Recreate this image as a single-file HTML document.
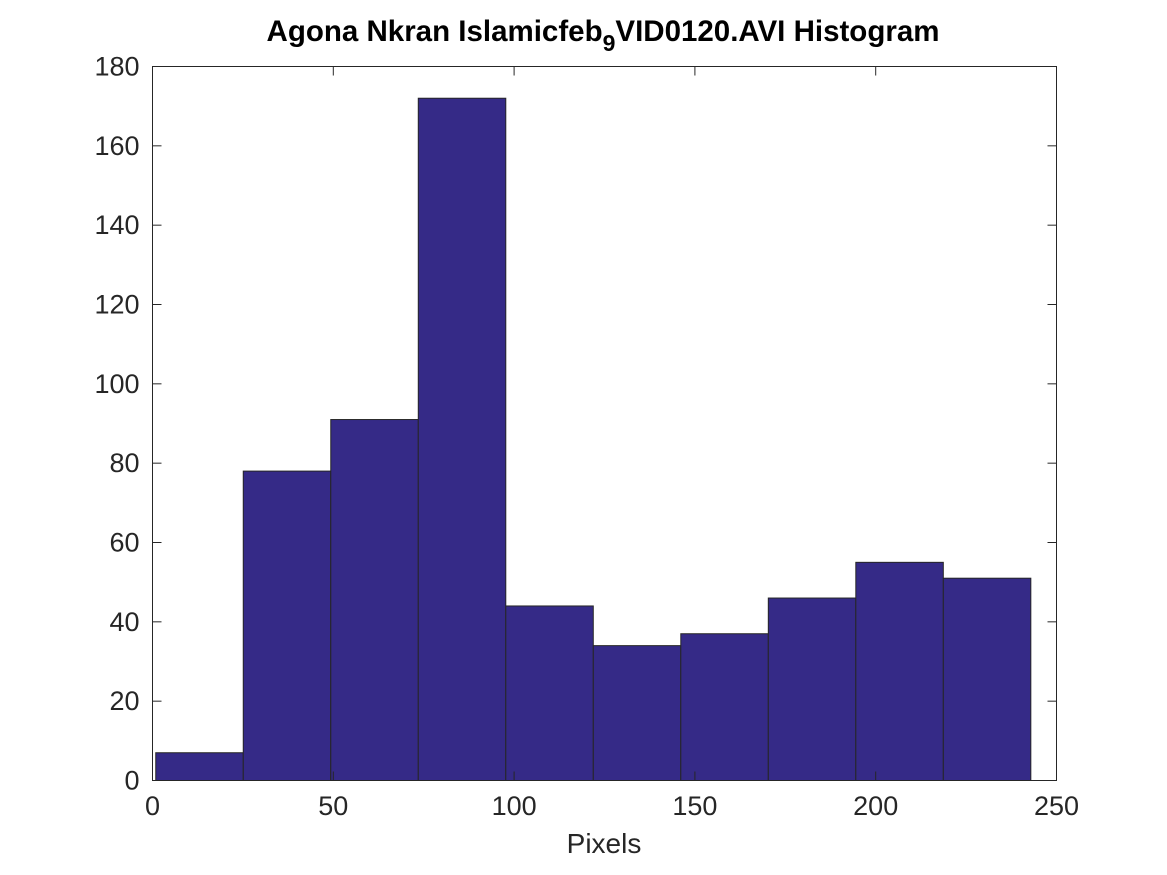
<!DOCTYPE html>
<html><head><meta charset="utf-8"><style>
body{margin:0;background:#fff;}
svg{display:block;font-family:"Liberation Sans",Arial,sans-serif;}
</style></head><body>
<svg id="chart" width="1167" height="875">
<rect width="1167" height="875" fill="#fff"/>
<text x="603" y="41" text-anchor="middle" font-size="29.5" font-weight="bold" fill="#000">Agona Nkran Islamicfeb<tspan dy="10" font-size="23">9</tspan><tspan dy="-10">VID0120.AVI Histogram</tspan></text>
<g id="bars"></g>
<rect x="152.5" y="66.5" width="904" height="714" fill="none" stroke="#262626" stroke-width="1"/>
<g id="ticks"></g>
<text x="604" y="853" text-anchor="middle" font-size="28" fill="#262626">Pixels</text>
</svg>
<script>
const binStart = 0.9;
const binWidth = 24.2;
const counts = [7, 78, 91, 172, 44, 34, 37, 46, 55, 51];
const xTicks = [0, 50, 100, 150, 200, 250];
const yTicks = [0, 20, 40, 60, 80, 100, 120, 140, 160, 180];
const ns = "http://www.w3.org/2000/svg";
const X0=152.5, X1=1056.5, Y0=780.5, Y1=66.5;
const xs = v => X0 + v/250*(X1-X0);
const ys = v => Y0 - v/180*(Y0-Y1);
const bars = document.getElementById('bars');
counts.forEach((c,i)=>{
  const r=document.createElementNS(ns,'rect');
  const a=xs(binStart+i*binWidth), b=xs(binStart+(i+1)*binWidth);
  r.setAttribute('x',a); r.setAttribute('y',ys(c));
  r.setAttribute('width',b-a); r.setAttribute('height',ys(0)-ys(c));
  r.setAttribute('fill','#352a87'); r.setAttribute('stroke','#262626'); r.setAttribute('stroke-width','1');
  
  
  bars.appendChild(r);
});
const tg=document.getElementById('ticks');
function line(x1,y1,x2,y2){const l=document.createElementNS(ns,'line');l.setAttribute('x1',x1);l.setAttribute('y1',y1);l.setAttribute('x2',x2);l.setAttribute('y2',y2);l.setAttribute('stroke','#262626');


tg.appendChild(l);}
function text(x,y,s,anchor){const t=document.createElementNS(ns,'text');t.setAttribute('x',x);t.setAttribute('y',y);t.setAttribute('text-anchor',anchor);t.setAttribute('font-size','27');t.setAttribute('fill','#262626');t.textContent=s;


tg.appendChild(t);}
xTicks.forEach(v=>{const x=xs(v);line(x,Y0,x,Y0-9);line(x,Y1,x,Y1+9);text(x,815,String(v),'middle');});
yTicks.forEach(v=>{const y=ys(v);line(X0,y,X0+9,y);line(X1,y,X1-9,y);text(X0-13,y+9,String(v),'end');});
</script>
</body></html>
